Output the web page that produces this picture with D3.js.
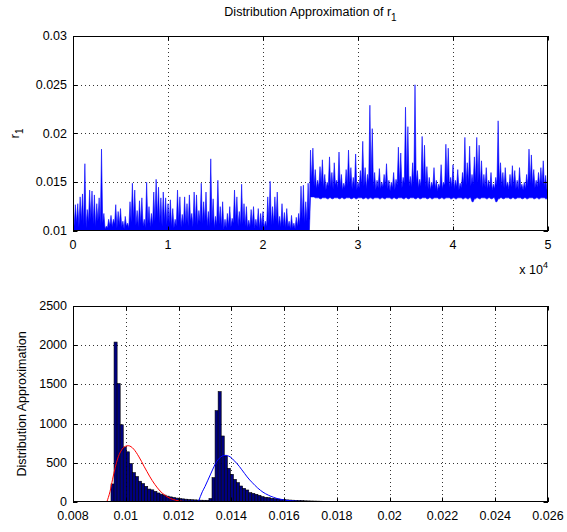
<!DOCTYPE html>
<html><head><meta charset="utf-8">
<script src="https://cdn.jsdelivr.net/npm/d3@7"></script>
<style>
html,body{margin:0;padding:0;background:#fff;}
svg{display:block;font-family:"Liberation Sans",Arial,sans-serif;}
</style></head>
<body><svg id="c" width="567" height="532"></svg>
<script>
// ---------- DATA ----------
// Top panel: r1 trace, summarized per sample block (index, block max, block min, dip level after block)
const r1Index = [0,250,500,750,1000,1250,1500,1750,2000,2250,2500,2750,3000,3250,3500,3750,4000,4250,4500,4750,5000,5250,5500,5750,6000,6250,6500,6750,7000,7250,7500,7750,8000,8250,8500,8750,9000,9250,9500,9750,10000,10250,10500,10750,11000,11250,11500,11750,12000,12250,12500,12750,13000,13250,13500,13750,14000,14250,14500,14750,15000,15250,15500,15750,16000,16250,16500,16750,17000,17250,17500,17750,18000,18250,18500,18750,19000,19250,19500,19750,20000,20250,20500,20750,21000,21250,21500,21750,22000,22250,22500,22750,23000,23250,23500,23750,24000,24250,24500,24750,
25000,25250,25500,25750,26000,26250,26500,26750,27000,27250,27500,27750,28000,28250,28500,28750,29000,29250,29500,29750,30000,30250,30500,30750,31000,31250,31500,31750,32000,32250,32500,32750,33000,33250,33500,33750,34000,34250,34500,34750,35000,35250,35500,35750,36000,36250,36500,36750,37000,37250,37500,37750,38000,38250,38500,38750,39000,39250,39500,39750,40000,40250,40500,40750,41000,41250,41500,41750,42000,42250,42500,42750,43000,43250,43500,43750,44000,44250,44500,44750,45000,45250,45500,45750,46000,46250,46500,46750,47000,47250,47500,47750,48000,48250,48500,48750,49000,49250,49500,49750,50000];
const r1High = [0.0126,0.0127,0.0128,0.0135,0.0138,0.0169,0.0122,0.0142,0.0141,0.0137,0.0128,0.0134,0.0184,0.0118,0.0105,0.0112,0.0116,0.0112,0.0127,0.0120,0.0123,0.0110,0.0115,0.0108,0.0130,0.0149,0.0142,0.0121,0.0131,0.0134,0.0112,0.0150,0.0125,0.0118,0.0140,0.0153,0.0145,0.0134,0.0140,0.0134,0.0128,0.0132,0.0123,0.0112,0.0142,0.0135,0.0117,0.0135,0.0128,0.0137,0.0118,0.0140,0.0137,0.0121,0.0149,0.0130,0.0140,0.0120,0.0174,0.0133,0.0115,0.0152,0.0125,0.0130,0.0112,0.0118,0.0125,0.0113,0.0142,0.0135,0.0120,0.0148,0.0128,0.0125,0.0111,0.0122,0.0125,0.0112,0.0123,0.0118,0.0120,0.0110,0.0135,0.0151,0.0125,0.0135,0.0140,0.0115,0.0128,0.0119,0.0123,0.0110,0.0116,0.0108,0.0114,0.0118,0.0146,0.0147,0.0130,0.0149,
0.0183,0.0185,0.0163,0.0152,0.0166,0.0173,0.0158,0.0150,0.0176,0.0160,0.0170,0.0152,0.0181,0.0158,0.0149,0.0163,0.0183,0.0165,0.0155,0.0179,0.0150,0.0162,0.0192,0.0165,0.0158,0.0229,0.0205,0.0160,0.0152,0.0164,0.0150,0.0158,0.0169,0.0152,0.0150,0.0160,0.0153,0.0186,0.0180,0.0155,0.0227,0.0207,0.0156,0.0170,0.0250,0.0162,0.0153,0.0197,0.0188,0.0166,0.0155,0.0150,0.0165,0.0152,0.0148,0.0168,0.0150,0.0189,0.0185,0.0155,0.0168,0.0152,0.0163,0.0149,0.0160,0.0196,0.0170,0.0187,0.0158,0.0176,0.0196,0.0188,0.0172,0.0158,0.0165,0.0152,0.0160,0.0148,0.0155,0.0213,0.0170,0.0160,0.0165,0.0150,0.0158,0.0167,0.0162,0.0152,0.0165,0.0148,0.0150,0.0158,0.0184,0.0178,0.0163,0.0152,0.0160,0.0165,0.0172,0.0157,0.0140];
const r1Dip = [0.0105,0.0108,0.0104,0.0110,0.0106,0.0103,0.0109,0.0112,0.0107,0.0104,0.0110,0.0106,0.0108,0.0102,0.0103,0.0105,0.0104,0.0107,0.0103,0.0106,0.0104,0.0102,0.0105,0.0103,0.0109,0.0112,0.0106,0.0104,0.0108,0.0105,0.0103,0.0107,0.0104,0.0106,0.0110,0.0113,0.0108,0.0105,0.0109,0.0106,0.0108,0.0104,0.0103,0.0105,0.0109,0.0104,0.0106,0.0107,0.0105,0.0110,0.0104,0.0108,0.0106,0.0109,0.0107,0.0110,0.0105,0.0104,0.0108,0.0103,0.0106,0.0107,0.0104,0.0102,0.0103,0.0105,0.0104,0.0108,0.0109,0.0105,0.0106,0.0107,0.0105,0.0103,0.0104,0.0106,0.0103,0.0104,0.0102,0.0105,0.0103,0.0104,0.0108,0.0106,0.0107,0.0110,0.0105,0.0104,0.0105,0.0103,0.0104,0.0102,0.0103,0.0102,0.0104,0.0106,0.0112,0.0108,0.0110,0.0112,
0.0150,0.0146,0.0143,0.0145,0.0148,0.0144,0.0142,0.0146,0.0145,0.0143,0.0147,0.0144,0.0145,0.0142,0.0144,0.0146,0.0148,0.0143,0.0145,0.0142,0.0144,0.0147,0.0146,0.0143,0.0150,0.0152,0.0145,0.0142,0.0144,0.0143,0.0145,0.0146,0.0143,0.0141,0.0144,0.0142,0.0147,0.0148,0.0144,0.0149,0.0151,0.0146,0.0145,0.0148,0.0149,0.0144,0.0146,0.0150,0.0145,0.0143,0.0142,0.0145,0.0143,0.0141,0.0144,0.0143,0.0147,0.0149,0.0144,0.0145,0.0143,0.0145,0.0142,0.0144,0.0148,0.0147,0.0149,0.0146,0.0148,0.0151,0.0149,0.0146,0.0144,0.0145,0.0143,0.0144,0.0142,0.0143,0.0147,0.0148,0.0146,0.0144,0.0145,0.0143,0.0145,0.0146,0.0143,0.0142,0.0144,0.0142,0.0143,0.0146,0.0149,0.0147,0.0144,0.0145,0.0146,0.0148,0.0145,0.0143];
const r1Low = [0.0097,0.0096,0.0098,0.0096,0.0097,0.0095,0.0097,0.0098,0.0096,0.0097,0.0096,0.0098,0.0097,0.0096,0.0097,0.0098,0.0096,0.0097,0.0096,0.0098,0.0097,0.0096,0.0097,0.0098,0.0096,0.0097,0.0096,0.0098,0.0097,0.0096,0.0097,0.0098,0.0096,0.0097,0.0096,0.0098,0.0097,0.0096,0.0097,0.0098,0.0096,0.0097,0.0096,0.0098,0.0097,0.0096,0.0097,0.0098,0.0096,0.0097,0.0096,0.0098,0.0097,0.0096,0.0097,0.0098,0.0096,0.0097,0.0096,0.0098,0.0097,0.0096,0.0097,0.0098,0.0096,0.0097,0.0096,0.0098,0.0097,0.0096,0.0097,0.0098,0.0096,0.0097,0.0096,0.0098,0.0097,0.0096,0.0097,0.0098,0.0096,0.0097,0.0096,0.0098,0.0097,0.0096,0.0097,0.0098,0.0096,0.0097,0.0096,0.0098,0.0097,0.0096,0.0097,0.0098,0.0096,0.0097,0.0096,0.0098,
0.0135,0.0135,0.0134,0.0134,0.0133,0.0134,0.0134,0.0133,0.0134,0.0133,0.0134,0.0134,0.0133,0.0134,0.0133,0.0134,0.0134,0.0133,0.0134,0.0133,0.0134,0.0134,0.0133,0.0134,0.0133,0.0134,0.0133,0.0134,0.0134,0.0133,0.0134,0.0133,0.0134,0.0134,0.0133,0.0134,0.0133,0.0134,0.0134,0.0133,0.0134,0.0133,0.0134,0.0134,0.0133,0.0134,0.0133,0.0134,0.0134,0.0133,0.0134,0.0133,0.0134,0.0134,0.0133,0.0134,0.0133,0.0134,0.0134,0.0133,0.0134,0.0133,0.0134,0.0134,0.0133,0.0134,0.0133,0.0134,0.0130,0.0133,0.0134,0.0133,0.0134,0.0134,0.0133,0.0134,0.0133,0.0134,0.0130,0.0133,0.0134,0.0133,0.0134,0.0134,0.0133,0.0134,0.0133,0.0134,0.0134,0.0133,0.0134,0.0133,0.0134,0.0134,0.0133,0.0134,0.0133,0.0134,0.0134,0.0133,0.0134];

// Bottom panel: histogram (uniform bins) and two fitted densities
const histBinStart = 0.00944;
const histBinWidth = 0.000116;
const histCounts = [230,2040,1510,985,700,640,490,375,325,265,235,200,165,155,135,115,100,88,75,65,57,50,44,40,36,32,29,27,25,23,22,22,43,310,1165,1408,842,587,430,353,289,247,204,174,153,119,110,98,85,68,60,55,47,43,38,34,30,27,25,23,21,19,17,15,14,13,12,11,10,9,8,7,6,6,5,5,4,4,3,3,3,2,2,2,2,2,2,2,2,2,2,1,1,1,1,1,1,1,1,1,1,1,1,1,1,1,1,1,1,1,1,1,1,1,1,1,1,1,1,1,1,1,1,1,1,1,1,1,1,1,1,1,1,1];
const fit1X = [0.00928,0.00940,0.00950,0.00960,0.00970,0.00980,0.00990,0.01000,0.01010,0.01020,0.01030,0.01040,0.01050,0.01060,0.01070,0.01080,0.01090,0.01100,0.01110,0.01120,0.01130,0.01140,0.01150,0.01160,0.01170,0.01180,0.01190,0.01200,0.01215,0.01230,0.01250,0.01275];
const fit1Y = [0,130,290,440,560,640,690,712,718,705,675,630,575,515,450,390,330,275,225,180,140,108,82,60,44,32,22,15,8,4,1,0];
const fit2X = [0.01275,0.0129,0.0130,0.0131,0.0132,0.0133,0.0134,0.0135,0.0136,0.0137,0.0138,0.0139,0.0140,0.0141,0.0142,0.0143,0.0144,0.0145,0.0146,0.0147,0.0148,0.0149,0.0150,0.0151,0.0152,0.0153,0.0154,0.0155,0.0156,0.0157,0.0158,0.0160,0.0162,0.0165,0.0170,0.0180,0.0200,0.0260];
const fit2Y = [0,130,196,270,345,420,490,540,575,592,595,585,565,530,495,455,410,365,320,280,245,210,178,150,125,105,88,72,60,48,40,26,17,9,3,1,0,0];

const topXTicks = [0,10000,20000,30000,40000,50000];
const topXTickLabels = ["0","1","2","3","4","5"];
const topYTicks = [0.01,0.015,0.02,0.025,0.03];
const topYTickLabels = ["0.01","0.015","0.02","0.025","0.03"];
const botXTicks = [0.008,0.010,0.012,0.014,0.016,0.018,0.020,0.022,0.024,0.026];
const botXTickLabels = ["0.008","0.01","0.012","0.014","0.016","0.018","0.02","0.022","0.024","0.026"];
const botYTicks = [0,500,1000,1500,2000,2500];
const botYTickLabels = ["0","500","1000","1500","2000","2500"];

// ---------- DRAW ----------
const svg = d3.select("#c");
const FS = 12.5;
const L = 73, R = 548;
const top1 = 36, bot1 = 231;
const top2 = 306, bot2 = 502;

function axesGrid(g, x, y, xt, yt, y0, y1) {
  const grid = g.append("g").attr("stroke","#000").attr("stroke-width",0.8).attr("stroke-dasharray","1,3");
  xt.forEach((t,i)=>{ if(i>0 && i<xt.length-1) grid.append("line").attr("x1",Math.round(x(t))+0.5).attr("x2",Math.round(x(t))+0.5).attr("y1",y0).attr("y2",y1); });
  yt.forEach((t,i)=>{ if(i>0 && i<yt.length-1) grid.append("line").attr("y1",Math.round(y(t))+0.5).attr("y2",Math.round(y(t))+0.5).attr("x1",L).attr("x2",R); });
}
function axesTicks(g, x, y, xt, xl, yt, yl, y0, y1) {
  const tk = g.append("g").attr("stroke","#000").attr("stroke-width",1);
  const tl = 4.5;
  xt.forEach(t=>{ const xx=Math.round(x(t))+0.5;
    tk.append("line").attr("x1",xx).attr("x2",xx).attr("y1",y1).attr("y2",y1-tl);
    tk.append("line").attr("x1",xx).attr("x2",xx).attr("y1",y0).attr("y2",y0+tl); });
  yt.forEach(t=>{ const yy=Math.round(y(t))+0.5;
    tk.append("line").attr("x1",L).attr("x2",L+tl).attr("y1",yy).attr("y2",yy);
    tk.append("line").attr("x1",R).attr("x2",R-tl).attr("y1",yy).attr("y2",yy); });
  g.append("rect").attr("x",L+0.5).attr("y",y0+0.5).attr("width",R-L-1).attr("height",y1-y0-1)
    .attr("fill","none").attr("stroke","#000").attr("stroke-width",1);
  const lab = g.append("g").attr("font-size",FS).attr("fill","#000");
  xt.forEach((t,i)=>{ lab.append("text").attr("x",x(t)).attr("y",y1+18).attr("text-anchor","middle").text(xl[i]); });
  yt.forEach((t,i)=>{ lab.append("text").attr("x",L-6).attr("y",y(t)+4).attr("text-anchor","end").text(yl[i]); });
}

// ----- top panel -----
const x1 = d3.scaleLinear().domain([0,50000]).range([L,R]);
const y1 = d3.scaleLinear().domain([0.01,0.03]).range([bot1,top1]);
const gTop = svg.append("g");
svg.append("clipPath").attr("id","clipTop").append("rect").attr("x",L).attr("y",top1).attr("width",R-L).attr("height",bot1-top1);
axesGrid(gTop, x1, y1, topXTicks, topYTicks, top1, bot1);
// build zigzag: block max, then dip between blocks
const tracePts = [];
r1Index.forEach((ix,i)=>{
  tracePts.push({x: ix, top: r1High[i], low: r1Low[i]});
  if (i < r1Index.length-1) tracePts.push({x: (ix + r1Index[i+1])/2, top: r1Dip[i], low: r1Low[i]});
});
const traceArea = d3.area().x(d=>x1(d.x)).y0(d=>y1(d.low)).y1(d=>y1(d.top));
const gt = gTop.append("g").attr("clip-path","url(#clipTop)");
gt.append("path").datum(tracePts).attr("d",traceArea).attr("fill","#0000ff").attr("stroke","#0000ff").attr("stroke-width",0.6);
axesTicks(gTop, x1, y1, topXTicks, topXTickLabels, topYTicks, topYTickLabels, top1, bot1);
// x 10^4
const ex = svg.append("text").attr("font-size",FS).attr("x",R).attr("y",bot1+43).attr("text-anchor","end");
ex.append("tspan").text("x 10");
ex.append("tspan").attr("font-size",9).attr("dy",-6).text("4");
// ylabel r1
const yl1 = svg.append("text").attr("font-size",FS+1).attr("transform",`translate(19,${(top1+bot1)/2}) rotate(-90)`).attr("text-anchor","middle");
yl1.append("tspan").text("r");
yl1.append("tspan").attr("font-size",10).attr("dy",4).text("1");
// title
const tt = svg.append("text").attr("font-size",FS).attr("x",(L+R)/2).attr("y",top1-20).attr("text-anchor","middle");
tt.append("tspan").text("Distribution Approximation of r");
tt.append("tspan").attr("font-size",10).attr("dy",5).text("1");

// ----- bottom panel -----
const x2 = d3.scaleLinear().domain([0.008,0.026]).range([L,R]);
const y2 = d3.scaleLinear().domain([0,2500]).range([bot2,top2]);
const gBot = svg.append("g");
svg.append("clipPath").attr("id","clipBot").append("rect").attr("x",L).attr("y",top2).attr("width",R-L).attr("height",bot2-top2);
axesGrid(gBot, x2, y2, botXTicks, botYTicks, top2, bot2);
const gb = gBot.append("g").attr("clip-path","url(#clipBot)");
gb.selectAll("rect.bar").data(histCounts).enter().append("rect")
  .attr("x",(d,i)=>x2(histBinStart+i*histBinWidth))
  .attr("width",(d,i)=>x2(histBinStart+(i+1)*histBinWidth)-x2(histBinStart+i*histBinWidth))
  .attr("y",d=>y2(d)).attr("height",d=>y2(0)-y2(d))
  .attr("fill","#000080").attr("stroke","#000").attr("stroke-width",0.6);
const fitLine1 = d3.line().x((d,i)=>x2(fit1X[i])).y((d,i)=>y2(fit1Y[i])).curve(d3.curveMonotoneX);
const fitLine2 = d3.line().x((d,i)=>x2(fit2X[i])).y((d,i)=>y2(fit2Y[i])).curve(d3.curveMonotoneX);
gb.append("path").datum(fit1X).attr("d",fitLine1).attr("fill","none").attr("stroke","#ff0000").attr("stroke-width",1);
gb.append("path").datum(fit2X).attr("d",fitLine2).attr("fill","none").attr("stroke","#0000ff").attr("stroke-width",1);
axesTicks(gBot, x2, y2, botXTicks, botXTickLabels, botYTicks, botYTickLabels, top2, bot2);
svg.append("text").attr("font-size",FS).attr("transform",`translate(26,${(top2+bot2)/2}) rotate(-90)`).attr("text-anchor","middle").text("Distribution Approximation");
</script></body></html>
